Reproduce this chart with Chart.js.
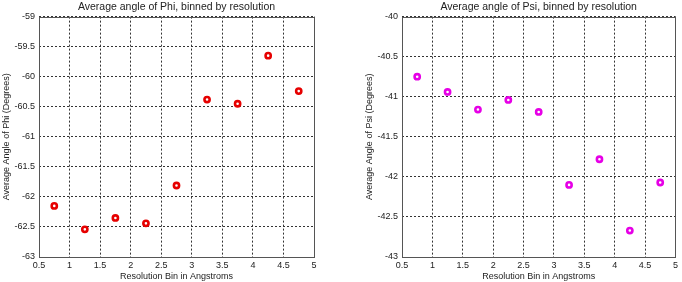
<!DOCTYPE html>
<html><head><meta charset="utf-8">
<script src="https://cdn.jsdelivr.net/npm/chart.js@4/dist/chart.umd.min.js"></script>
<style>
html,body{margin:0;padding:0;background:#fff;}
.box{position:absolute;top:0;width:341px;height:282px;}
</style></head>
<body>
<div class="box" style="left:0"><canvas id="c1" width="341" height="282"></canvas></div>
<div class="box" style="left:341px"><canvas id="c2" width="341" height="282"></canvas></div>
<script>
const bins = [0.75, 1.25, 1.75, 2.25, 2.75, 3.25, 3.75, 4.25, 4.75];
const phiValues = [-62.15, -62.54, -62.35, -62.44, -61.81, -60.38, -60.45, -59.65, -60.24];
const psiValues = [-40.75, -40.94, -41.16, -41.04, -41.19, -42.10, -41.78, -42.67, -42.07];
const xTicks = [0.5, 1, 1.5, 2, 2.5, 3, 3.5, 4, 4.5, 5];
const phiTicks = [-63, -62.5, -62, -61.5, -61, -60.5, -60, -59.5, -59];
const psiTicks = [-43, -42.5, -42, -41.5, -41, -40.5, -40];

const FONT = 'Arial, "Liberation Sans", sans-serif';
const TXT = '#222';

const frame = {
  id: 'frame',
  afterDraw(chart) {
    const a = chart.chartArea, ctx = chart.ctx;
    ctx.save();
    ctx.strokeStyle = '#555';
    ctx.lineWidth = 1;
    ctx.setLineDash([]);
    ctx.strokeRect(Math.round(a.left) + 0.5, Math.round(a.top) + 0.5,
      Math.round(a.right - a.left), Math.round(a.bottom - a.top));
    ctx.restore();
  }
};

function make(id, title, ylabel, values, yTicks, color, yWidth, yTitlePad, padRight) {
  const pts = bins.map((x, i) => ({x: x, y: values[i]}));
  return new Chart(document.getElementById(id), {
    type: 'scatter',
    data: { datasets: [{ data: pts, pointStyle: 'circle', pointRadius: 2.6,
      pointBorderWidth: 2.6, borderColor: color, pointBackgroundColor: '#fff',
      pointBorderColor: color, showLine: false }] },
    options: {
      responsive: false, animation: false, devicePixelRatio: 1,
      layout: { padding: { left: 0, right: padRight, top: 0, bottom: 0 } },
      plugins: {
        legend: { display: false }, tooltip: { enabled: false },
        title: { display: true, text: title, fullSize: false, color: TXT,
          font: { family: FONT, size: 10.5, weight: 'normal' }, padding: { top: 1, bottom: 3 } }
      },
      scales: {
        x: {
          type: 'linear', min: xTicks[0], max: xTicks[xTicks.length - 1],
          afterBuildTicks: s => { s.ticks = xTicks.map(v => ({value: v})); },
          afterFit: s => { s.height = 25; },
          grid: { color: '#333', lineWidth: 1, drawTicks: false },
          border: { display: false, dash: [2, 2] },
          ticks: { color: TXT, font: { family: FONT, size: 9 }, padding: 3, maxRotation: 0,
            callback: v => String(v) },
          title: { display: true, text: 'Resolution Bin in Angstroms', color: TXT,
            font: { family: FONT, size: 9 }, padding: { top: 0, bottom: 0 } }
        },
        y: {
          type: 'linear', min: yTicks[0], max: yTicks[yTicks.length - 1],
          afterBuildTicks: s => { s.ticks = yTicks.map(v => ({value: v})); },
          afterFit: s => { s.width = yWidth; },
          grid: { color: '#333', lineWidth: 1, drawTicks: false },
          border: { display: false, dash: [2, 2] },
          ticks: { color: TXT, font: { family: FONT, size: 9 }, padding: 4,
            callback: v => String(v) },
          title: { display: true, text: ylabel, color: TXT,
            font: { family: FONT, size: 9 }, padding: { top: yTitlePad, bottom: 0 } }
        }
      }
    },
    plugins: [frame]
  });
}

make('c1', 'Average angle of Phi, binned by resolution', 'Average Angle of Phi (Degrees)',
  phiValues, phiTicks, '#e60000', 39, 1, 27);
make('c2', 'Average angle of Psi, binned by resolution', 'Average Angle of Psi (Degrees)',
  psiValues, psiTicks, '#e600e6', 61, 23, 3);
</script>
</body></html>
